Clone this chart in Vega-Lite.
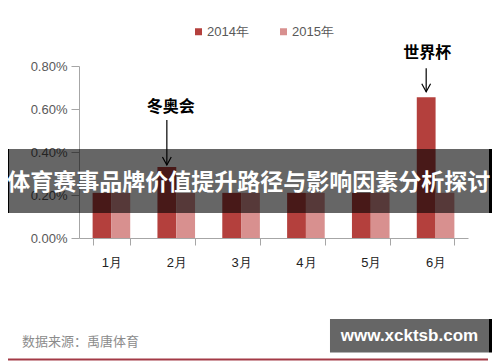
{
  "$schema": "https://vega.github.io/schema/vega-lite/v6.json",
  "width": 389,
  "height": 172,
  "autosize": {"type": "none"},
  "padding": {"left": 79, "top": 66, "right": 32, "bottom": 124},
  "background": "white",
  "config": {"view": {"stroke": null}},
  "datasets": {
    "bars": [
      {"month": "1月", "year": "2014年", "value": 0.0021},
      {"month": "2月", "year": "2014年", "value": 0.0033},
      {"month": "3月", "year": "2014年", "value": 0.0021},
      {"month": "4月", "year": "2014年", "value": 0.0021},
      {"month": "5月", "year": "2014年", "value": 0.0021},
      {"month": "6月", "year": "2014年", "value": 0.00655},
      {"month": "1月", "year": "2015年", "value": 0.0021},
      {"month": "2月", "year": "2015年", "value": 0.0021},
      {"month": "3月", "year": "2015年", "value": 0.0021},
      {"month": "4月", "year": "2015年", "value": 0.0021},
      {"month": "5月", "year": "2015年", "value": 0.0021},
      {"month": "6月", "year": "2015年", "value": 0.0021}
    ],
    "notes": [
      {"month": "2月", "year": "2014年", "value": 0.0033, "label": "冬奥会"},
      {"month": "6月", "year": "2014年", "value": 0.00655, "label": "世界杯"}
    ]
  },
  "resolve": {"scale": {"x": "independent"}},
  "layer": [
    {
      "data": {"name": "bars"},
      "layer": [
        {
          "mark": {"type": "bar"},
          "encoding": {
            "x": {
              "field": "month", "type": "nominal", "sort": ["1月", "2月", "3月", "4月", "5月", "6月"],
              "scale": {"paddingInner": 0.42, "paddingOuter": 0.21},
              "axis": {
                "title": null, "labelAngle": 0, "tickBand": "extent", "tickSize": 7,
                "domainColor": "#a6a6a6", "tickColor": "#a6a6a6", "labelPadding": 11,
                "labelFontSize": 13, "labelColor": "#222222", "labelFont": "Liberation Sans"
              }
            },
            "xOffset": {"field": "year", "type": "nominal"},
            "y": {
              "field": "value", "type": "quantitative",
              "scale": {"domain": [0, 0.008]},
              "axis": {
                "title": null, "format": ".2%", "values": [0, 0.002, 0.004, 0.006, 0.008],
                "grid": false, "domainColor": "#a6a6a6", "tickColor": "#a6a6a6", "tickSize": 8,
                "labelPadding": 4, "labelFontSize": 13, "labelColor": "#595959", "labelFont": "Liberation Sans"
              }
            },
            "color": {
              "field": "year", "type": "nominal",
              "scale": {"domain": ["2014年", "2015年"], "range": ["#b4403d", "#d8908f"]},
              "legend": {
                "title": null, "orient": "none", "legendX": 113, "legendY": -41,
                "direction": "horizontal", "symbolType": "square", "symbolSize": 49,
                "symbolStrokeWidth": 0, "labelFontSize": 13, "labelColor": "#595959",
                "labelFont": "Liberation Sans", "labelOffset": 2, "columnPadding": 28, "padding": 0
              }
            }
          }
        },
        {
          "data": {"name": "notes"},
          "transform": [{"filter": "datum.label === '冬奥会'"}],
          "layer": [
            {
              "mark": {"type": "rule", "color": "black", "strokeWidth": 1.2, "xOffset": 4, "yOffset": -2, "y2Offset": -47},
              "encoding": {
                "x": {"field": "month", "type": "nominal"},
                "xOffset": {"field": "year", "type": "nominal"},
                "y": {"field": "value", "type": "quantitative"},
                "y2": {"field": "value"}
              }
            },
            {
              "mark": {"type": "point", "shape": "M-0.55,-1L0,0L0.55,-1", "size": 256, "filled": false, "stroke": "black", "strokeWidth": 1.2, "opacity": 1, "xOffset": 4, "yOffset": -2},
              "encoding": {
                "x": {"field": "month", "type": "nominal"},
                "xOffset": {"field": "year", "type": "nominal"},
                "y": {"field": "value", "type": "quantitative"}
              }
            },
            {
              "mark": {"type": "text", "font": "Noto Sans CJK SC", "fontWeight": "bold", "fontSize": 16, "color": "black", "dx": 4, "dy": -60, "baseline": "middle"},
              "encoding": {
                "x": {"field": "month", "type": "nominal"},
                "xOffset": {"field": "year", "type": "nominal"},
                "y": {"field": "value", "type": "quantitative"},
                "text": {"field": "label"}
              }
            }
          ]
        },
        {
          "data": {"name": "notes"},
          "transform": [{"filter": "datum.label === '世界杯'"}],
          "layer": [
            {
              "mark": {"type": "rule", "color": "black", "strokeWidth": 1.2, "xOffset": 3, "yOffset": -5.5, "y2Offset": -29},
              "encoding": {
                "x": {"field": "month", "type": "nominal"},
                "xOffset": {"field": "year", "type": "nominal"},
                "y": {"field": "value", "type": "quantitative"},
                "y2": {"field": "value"}
              }
            },
            {
              "mark": {"type": "point", "shape": "M-0.55,-1L0,0L0.55,-1", "size": 256, "filled": false, "stroke": "black", "strokeWidth": 1.2, "opacity": 1, "xOffset": 3, "yOffset": -5.5},
              "encoding": {
                "x": {"field": "month", "type": "nominal"},
                "xOffset": {"field": "year", "type": "nominal"},
                "y": {"field": "value", "type": "quantitative"}
              }
            },
            {
              "mark": {"type": "text", "font": "Noto Sans CJK SC", "fontWeight": "bold", "fontSize": 16, "color": "black", "dx": 1, "dy": -44, "baseline": "middle"},
              "encoding": {
                "x": {"field": "month", "type": "nominal"},
                "xOffset": {"field": "year", "type": "nominal"},
                "y": {"field": "value", "type": "quantitative"},
                "text": {"field": "label"}
              }
            }
          ]
        }
      ]
    },
    {
      "data": {"values": [{}]},
      "mark": {"type": "rect", "fill": "black", "fillOpacity": 0.6},
      "encoding": {
        "x": {"datum": -0.1825, "type": "quantitative", "scale": {"domain": [0, 1]}, "axis": null},
        "x2": {"datum": 1.0540},
        "y": {"datum": 0.004140, "type": "quantitative", "scale": {"domain": [0, 0.008]}},
        "y2": {"datum": 0.001163}
      }
    },
    {
      "data": {"values": [{}]},
      "mark": {"type": "rect", "fill": "black"},
      "encoding": {
        "x": {"datum": 1.0540, "type": "quantitative", "scale": {"domain": [0, 1]}, "axis": null},
        "x2": {"datum": 1.0617},
        "y": {"datum": 0.004140, "type": "quantitative", "scale": {"domain": [0, 0.008]}},
        "y2": {"datum": 0.001163}
      }
    },
    {
      "data": {"values": [{}]},
      "mark": {"type": "rect", "fill": "black"},
      "encoding": {
        "x": {"datum": -0.1825, "type": "quantitative", "scale": {"domain": [0, 1]}, "axis": null},
        "x2": {"datum": -0.1799},
        "y": {"datum": 0.004140, "type": "quantitative", "scale": {"domain": [0, 0.008]}},
        "y2": {"datum": 0.001163}
      }
    },
    {
      "data": {"values": [{"title": "体育赛事品牌价值提升路径与影响因素分析探讨"}]},
      "mark": {"type": "text", "font": "Noto Sans CJK SC", "fontWeight": "bold", "fontSize": 23, "color": "white", "align": "center", "baseline": "middle"},
      "encoding": {
        "x": {"datum": 0.4364, "type": "quantitative", "scale": {"domain": [0, 1]}, "axis": null},
        "y": {"datum": 0.002558, "type": "quantitative", "scale": {"domain": [0, 0.008]}},
        "text": {"field": "title"}
      }
    },
    {
      "data": {"values": [{"source": "数据来源：禹唐体育"}]},
      "mark": {"type": "text", "font": "Noto Sans CJK SC", "fontSize": 13, "color": "#8c8c8c", "align": "left", "baseline": "middle"},
      "encoding": {
        "x": {"datum": -0.1465, "type": "quantitative", "scale": {"domain": [0, 1]}, "axis": null},
        "y": {"datum": -0.004814, "type": "quantitative", "scale": {"domain": [0, 0.008]}},
        "text": {"field": "source"}
      }
    },
    {
      "data": {"values": [{}]},
      "mark": {"type": "rule", "color": "#a33a46", "strokeWidth": 2},
      "encoding": {
        "x": {"datum": -0.1825, "type": "quantitative", "scale": {"domain": [0, 1]}, "axis": null},
        "x2": {"datum": 1.0514},
        "y": {"datum": -0.005651, "type": "quantitative", "scale": {"domain": [0, 0.008]}}
      }
    },
    {
      "data": {"values": [{}]},
      "mark": {"type": "rect", "fill": "black", "fillOpacity": 0.6},
      "encoding": {
        "x": {"datum": 0.6452, "type": "quantitative", "scale": {"domain": [0, 1]}, "axis": null},
        "x2": {"datum": 1.0540},
        "y": {"datum": -0.003767, "type": "quantitative", "scale": {"domain": [0, 0.008]}},
        "y2": {"datum": -0.005326}
      }
    },
    {
      "data": {"values": [{}]},
      "mark": {"type": "rect", "fill": "black"},
      "encoding": {
        "x": {"datum": 1.0540, "type": "quantitative", "scale": {"domain": [0, 1]}, "axis": null},
        "x2": {"datum": 1.0617},
        "y": {"datum": -0.003767, "type": "quantitative", "scale": {"domain": [0, 0.008]}},
        "y2": {"datum": -0.005326}
      }
    },
    {
      "data": {"values": [{"site": "www.xcktsb.com"}]},
      "mark": {"type": "text", "font": "Liberation Sans", "fontWeight": "bold", "fontSize": 17, "color": "white", "align": "center", "baseline": "middle"},
      "encoding": {
        "x": {"datum": 0.8496, "type": "quantitative", "scale": {"domain": [0, 1]}, "axis": null},
        "y": {"datum": -0.004558, "type": "quantitative", "scale": {"domain": [0, 0.008]}},
        "text": {"field": "site"}
      }
    }
  ]
}
